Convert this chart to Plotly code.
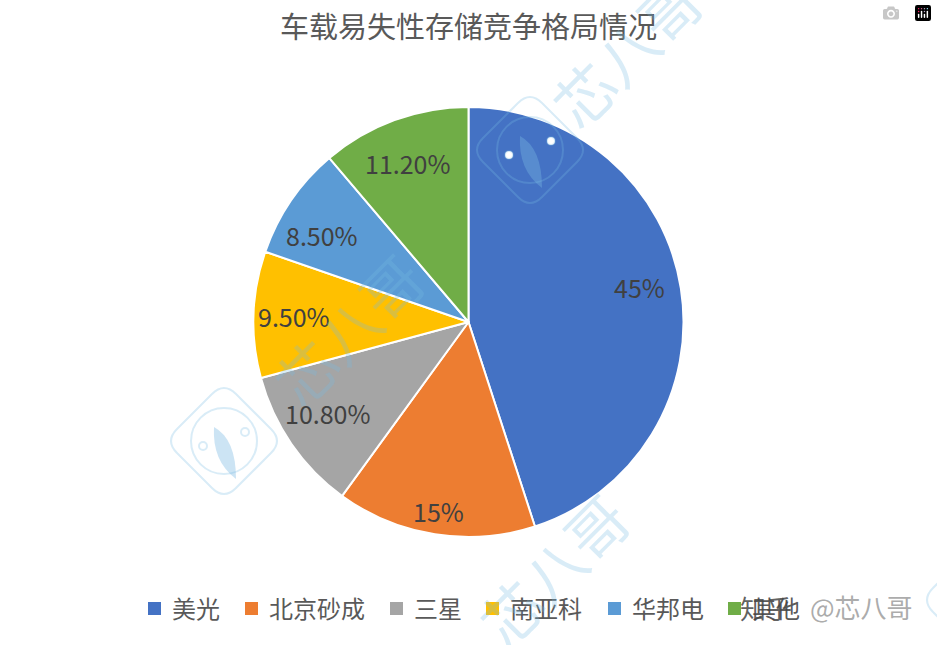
import math
import plotly.graph_objects as go

W, H = 937, 645
FONT = "Noto Sans CJK SC"

# data
companies = ["美光", "北京砂成", "三星", "南亚科", "华邦电", "其他"]
shares = [45, 15, 10.8, 9.5, 8.5, 11.2]
share_labels = ["45%", "15%", "10.80%", "9.50%", "8.50%", "11.20%"]
colors = ["#4472C4", "#ED7D31", "#A5A5A5", "#FFC000", "#5B9BD5", "#70AD47"]

CX, CY, R = 468.5, 322, 215
label_radius = [0.81, 0.89, 0.78, 0.81, 0.79, 0.79]
label_shift = [-2.6, -0.1, 1.6, 0.0, -3.7, -0.9]  # degrees, excel nudges its labels
legend_x = [148, 245, 390, 486, 608, 728]


def px(x):
    return x / W


def py(y):
    return 1 - y / H


fig = go.Figure(go.Pie(
    labels=companies, values=shares, sort=False, direction="clockwise",
    rotation=0, textinfo="none", hoverinfo="label+percent", showlegend=False,
    marker=dict(colors=colors, line=dict(color="white", width=2)),
    domain=dict(x=[px(CX - R), px(CX + R)], y=[py(CY + R), py(CY - R)]),
))


def note(x, y, text, size, color, anchor="center", angle=0):
    fig.add_annotation(x=px(x), y=py(y), xref="paper", yref="paper", text=text,
                       showarrow=False, xanchor=anchor, yanchor="middle", textangle=angle,
                       font=dict(family=FONT, size=size, color=color))


# data labels, placed from the slice angles
acc = 0
total = sum(shares)
for v, txt, rf, sh in zip(shares, share_labels, label_radius, label_shift):
    ang = math.radians((acc + v / 2) / total * 360 + sh)
    acc += v
    note(CX + R * rf * math.sin(ang), CY - R * rf * math.cos(ang), txt, 25, "#404040")

shapes = []

# legend drawn by hand, plotly's pie swatches are too small
for x, name, c in zip(legend_x, companies, colors):
    shapes.append(dict(type="rect", xref="paper", yref="paper", line=dict(width=0), fillcolor=c,
                       x0=px(x), x1=px(x + 13), y0=py(615), y1=py(602)))
    note(x + 22, 607, name, 24, "#595959", anchor="left")

# watermark
WM = "rgba(120,185,225,0.28)"
for x, y in [(347, 328), (552, 568), (625, 50)]:
    note(x, y, "芯八哥", 60, WM, angle=-45)

for x, y in [(224, 441), (530, 150), (980, 600)]:
    a, b = 59, 12
    shapes.append(dict(
        type="path", xref="paper", yref="paper", line=dict(color=WM, width=2),
        path=(f"M {px(x - a + b)} {py(y - b)} L {px(x - b)} {py(y - a + b)} "
              f"Q {px(x)} {py(y - a)} {px(x + b)} {py(y - a + b)} "
              f"L {px(x + a - b)} {py(y - b)} Q {px(x + a)} {py(y)} {px(x + a - b)} {py(y + b)} "
              f"L {px(x + b)} {py(y + a - b)} Q {px(x)} {py(y + a)} {px(x - b)} {py(y + a - b)} "
              f"L {px(x - a + b)} {py(y + b)} Q {px(x - a)} {py(y)} {px(x - a + b)} {py(y - b)} Z"),
    ))
    shapes.append(dict(type="circle", xref="paper", yref="paper",
                       x0=px(x - 33), x1=px(x + 33), y0=py(y + 33), y1=py(y - 33),
                       line=dict(color=WM, width=2)))
    # ring nodes
    for nx, ny in [(x - 21, y - 12 + 17), (x + 21, y - 9)]:
        shapes.append(dict(type="circle", xref="paper", yref="paper", fillcolor="white",
                           x0=px(nx - 4), x1=px(nx + 4), y0=py(ny + 4), y1=py(ny - 4),
                           line=dict(color=WM, width=2)))
    # bird
    shapes.append(dict(
        type="path", xref="paper", yref="paper", line=dict(width=0),
        fillcolor="rgba(120,185,225,0.38)",
        path=(f"M {px(x - 10)} {py(y - 14)} Q {px(x + 12)} {py(y - 2)} {px(x + 12)} {py(y + 38)} "
              f"Q {px(x - 12)} {py(y + 20)} {px(x - 10)} {py(y - 14)} Z"),
    ))

# site tag, bottom right
note(738, 607, "知乎", 26, "rgba(70,70,70,0.85)", anchor="left")
note(808, 606, "@芯八哥", 26, "rgba(150,150,150,0.8)", anchor="left")

fig.update_layout(
    width=W, height=H, margin=dict(l=0, r=0, t=0, b=0),
    paper_bgcolor="white", shapes=shapes,
    font=dict(family=FONT),
    title=dict(text="车载易失性存储竞争格局情况", x=468.5 / W, xanchor="center",
               y=py(28), yanchor="middle",
               font=dict(family=FONT, size=29, color="#595959")),
)
fig.write_html("out.html", post_script="document.body.style.margin='0';")
